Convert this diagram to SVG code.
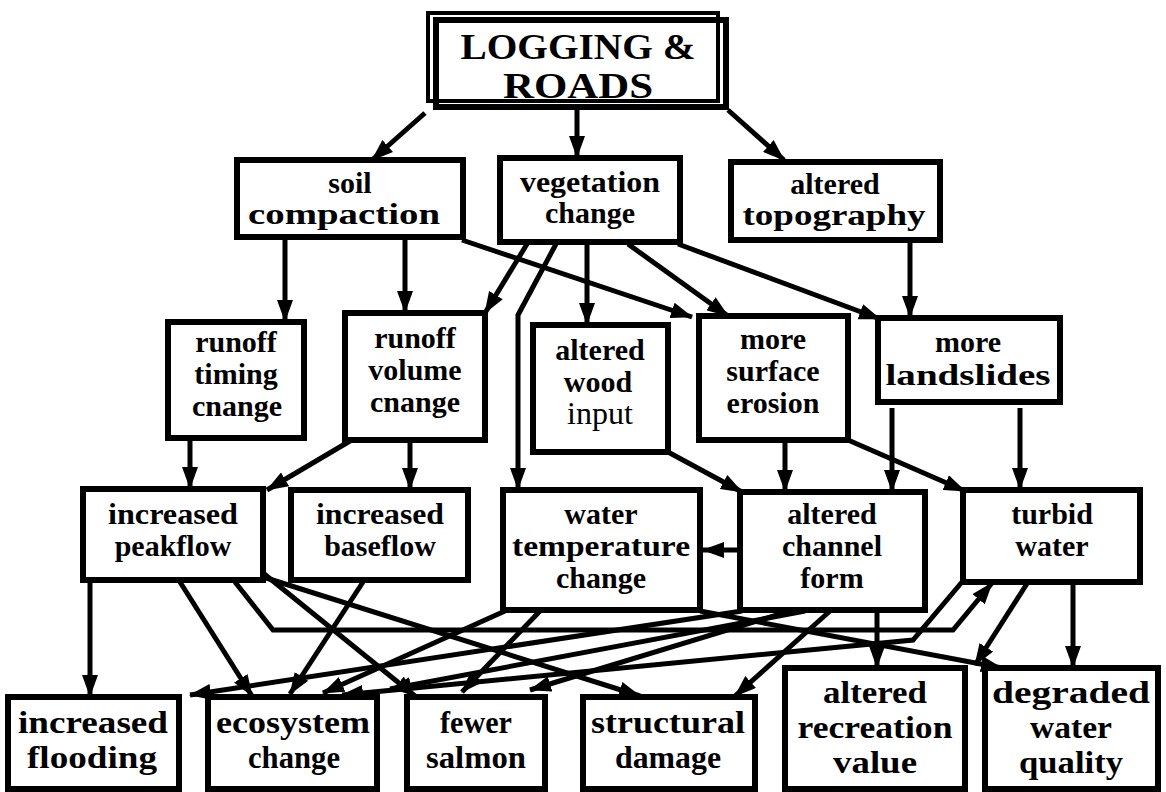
<svg xmlns="http://www.w3.org/2000/svg" width="1166" height="792" viewBox="0 0 1166 792">
<defs>
<marker id="ah" viewBox="0 0 22 16" refX="21" refY="8" markerWidth="22" markerHeight="16" markerUnits="userSpaceOnUse" orient="auto">
<path d="M0,0 L22,8 L0,16 z" fill="#000"/>
</marker>
<style>
.box{fill:#fff;stroke:#000;stroke-width:6}
.t{font-family:"Liberation Serif","Times New Roman",serif;font-weight:bold;font-size:30px;text-anchor:middle;fill:#000}
.tb{font-size:32px}
.big{font-size:35px}
.c path{fill:none;stroke:#000;stroke-width:5;marker-end:url(#ah)}
</style>
</defs>
<rect width="1166" height="792" fill="#fff"/>
<g class="c" id="connectors">
<path d="M425,113 L372,160"/>
<path d="M577,108 L577,157"/>
<path d="M728,110 L784,160"/>
<path d="M285,238 L285,321"/>
<path d="M405,238 L405,312"/>
<path d="M462,240 L692,317"/>
<path d="M527,244 L485,313"/>
<path d="M556,244 L518,315 L518,489"/>
<path d="M587,244 L587,324"/>
<path d="M628,244 L728,316"/>
<path d="M678,244 L880,319"/>
<path d="M910,242 L910,317"/>
<path d="M190,440 L190,488"/>
<path d="M350,441 L267,490"/>
<path d="M410,441 L410,489"/>
<path d="M668,452 L742,492"/>
<path d="M785,441 L785,491"/>
<path d="M848,440 L965,491"/>
<path d="M892,408 L892,491"/>
<path d="M1020,408 L1020,489"/>
<path d="M740,550 L703,550"/>
<path d="M90,582 L90,696"/>
<path d="M180,582 L252,696"/>
<path d="M235,582 L273,630 L953,630 L992,583"/>
<path d="M263,573 L415,696"/>
<path d="M263,577 L640,696"/>
<path d="M363,582 L290,694"/>
<path d="M505,611 L323,693"/>
<path d="M540,611 L462,692"/>
<path d="M700,611 L1002,668"/>
<path d="M742,611 L190,695"/>
<path d="M805,611 L390,689"/>
<path d="M790,611 L530,690"/>
<path d="M830,611 L735,696"/>
<path d="M877,611 L877,667"/>
<path d="M962,582 L913,640 L342,695"/>
<path d="M1028,582 L975,665"/>
<path d="M1073,582 L1073,667"/>
</g>
<g id="logging">
<rect class="box" x="428" y="13" width="290" height="88" style="stroke-width:4"/>
<rect class="box" x="436" y="20" width="290" height="87" style="fill:none"/>
<text class="t big" x="578" y="59" textLength="235" lengthAdjust="spacingAndGlyphs">LOGGING &amp;</text>
<text class="t big" x="578" y="98" textLength="150" lengthAdjust="spacingAndGlyphs">ROADS</text>
</g>
<g id="soil">
<rect class="box" x="237" y="160" width="226" height="77"/>
<text class="t" x="350" y="193">soil</text>
<text class="t" x="344" y="224" textLength="192" lengthAdjust="spacingAndGlyphs">compaction</text>
</g>
<g id="vegetation">
<rect class="box" x="500" y="158" width="180" height="84"/>
<text class="t" x="590" y="192" textLength="140" lengthAdjust="spacingAndGlyphs">vegetation</text>
<text class="t" x="590" y="223">change</text>
</g>
<g id="topography">
<rect class="box" x="731" y="162" width="209" height="78"/>
<text class="t" x="835" y="194">altered</text>
<text class="t" x="834" y="225" textLength="183" lengthAdjust="spacingAndGlyphs">topography</text>
</g>
<g id="runoff-timing">
<rect class="box" x="168" y="322" width="136" height="116"/>
<text class="t" x="236" y="352">runoff</text>
<text class="t" x="236" y="384">timing</text>
<text class="t" x="237" y="416">cnange</text>
</g>
<g id="runoff-volume">
<rect class="box" x="345" y="313" width="140" height="127"/>
<text class="t" x="415" y="348">runoff</text>
<text class="t" x="415" y="380">volume</text>
<text class="t" x="415" y="412">cnange</text>
</g>
<g id="wood">
<rect class="box" x="533" y="325" width="135" height="127"/>
<text class="t" x="600" y="360">altered</text>
<text class="t" x="598" y="392">wood</text>
<text class="t" x="600" y="424" style="font-weight:normal;font-size:32px">input</text>
</g>
<g id="erosion">
<rect class="box" x="699" y="316" width="149" height="124"/>
<text class="t" x="773" y="349">more</text>
<text class="t" x="773" y="381">surface</text>
<text class="t" x="773" y="413">erosion</text>
</g>
<g id="landslides">
<rect class="box" x="878" y="318" width="182" height="84"/>
<text class="t" x="968" y="352">more</text>
<text class="t" x="968" y="385" textLength="165" lengthAdjust="spacingAndGlyphs">landslides</text>
</g>
<g id="peakflow">
<rect class="box" x="83" y="489" width="180" height="91"/>
<text class="t" x="173" y="524" textLength="130" lengthAdjust="spacingAndGlyphs">increased</text>
<text class="t" x="173" y="556">peakflow</text>
</g>
<g id="baseflow">
<rect class="box" x="291" y="490" width="177" height="90"/>
<text class="t" x="380" y="524" textLength="128" lengthAdjust="spacingAndGlyphs">increased</text>
<text class="t" x="380" y="556">baseflow</text>
</g>
<g id="water-temperature">
<rect class="box" x="503" y="490" width="197" height="120"/>
<text class="t" x="601" y="524">water</text>
<text class="t" x="601" y="556" textLength="178" lengthAdjust="spacingAndGlyphs">temperature</text>
<text class="t" x="601" y="588">change</text>
</g>
<g id="channel-form">
<rect class="box" x="740" y="492" width="185" height="118"/>
<text class="t" x="832" y="524">altered</text>
<text class="t" x="832" y="556">channel</text>
<text class="t" x="832" y="588">form</text>
</g>
<g id="turbid-water">
<rect class="box" x="963" y="490" width="177" height="92"/>
<text class="t" x="1052" y="524">turbid</text>
<text class="t" x="1052" y="556">water</text>
</g>
<g id="flooding">
<rect class="box" x="8" y="697" width="171" height="92"/>
<text class="t tb" x="93" y="733" textLength="150" lengthAdjust="spacingAndGlyphs">increased</text>
<text class="t tb" x="92" y="768" textLength="130" lengthAdjust="spacingAndGlyphs">flooding</text>
</g>
<g id="ecosystem">
<rect class="box" x="208" y="697" width="169" height="92"/>
<text class="t tb" x="293" y="733" textLength="154" lengthAdjust="spacingAndGlyphs">ecosystem</text>
<text class="t tb" x="294" y="768" textLength="92" lengthAdjust="spacingAndGlyphs">change</text>
</g>
<g id="salmon">
<rect class="box" x="407" y="697" width="138" height="92"/>
<text class="t tb" x="476" y="733" textLength="72" lengthAdjust="spacingAndGlyphs">fewer</text>
<text class="t tb" x="476" y="768" textLength="100" lengthAdjust="spacingAndGlyphs">salmon</text>
</g>
<g id="structural">
<rect class="box" x="583" y="697" width="172" height="92"/>
<text class="t tb" x="668" y="733" textLength="154" lengthAdjust="spacingAndGlyphs">structural</text>
<text class="t tb" x="668" y="768" textLength="106" lengthAdjust="spacingAndGlyphs">damage</text>
</g>
<g id="recreation">
<rect class="box" x="785" y="668" width="180" height="121"/>
<text class="t tb" x="875" y="703" textLength="104" lengthAdjust="spacingAndGlyphs">altered</text>
<text class="t tb" x="875" y="738" textLength="155" lengthAdjust="spacingAndGlyphs">recreation</text>
<text class="t tb" x="875" y="773" textLength="84" lengthAdjust="spacingAndGlyphs">value</text>
</g>
<g id="water-quality">
<rect class="box" x="985" y="668" width="173" height="121"/>
<text class="t tb" x="1071" y="703" textLength="158" lengthAdjust="spacingAndGlyphs">degraded</text>
<text class="t tb" x="1071" y="738" textLength="82" lengthAdjust="spacingAndGlyphs">water</text>
<text class="t tb" x="1071" y="773" textLength="104" lengthAdjust="spacingAndGlyphs">quality</text>
</g>
</svg>
